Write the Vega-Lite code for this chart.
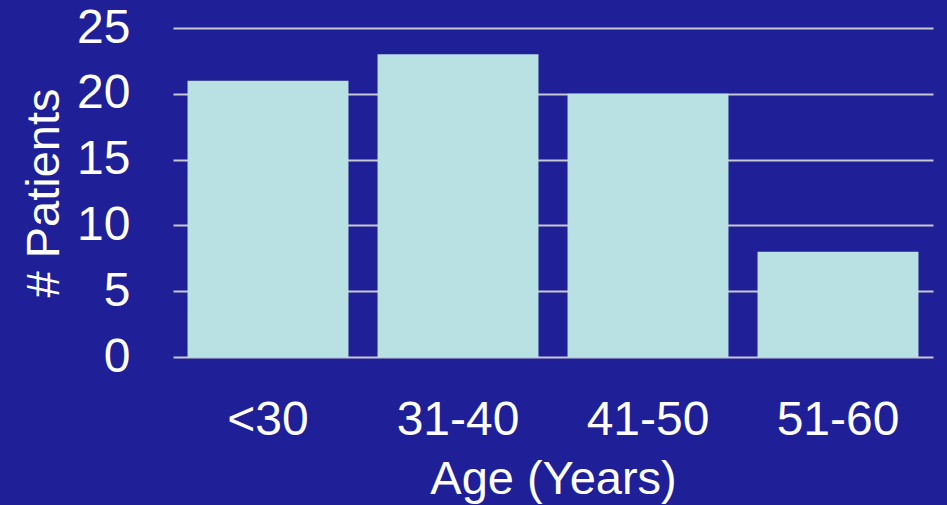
{
  "$schema": "https://vega.github.io/schema/vega-lite/v6.json",
  "width": 760,
  "height": 329,
  "autosize": "none",
  "padding": {"left": 173, "top": 28, "right": 14, "bottom": 148},
  "background": "#1f1f97",
  "config": {
    "view": {"stroke": null},
    "font": "Liberation Sans",
    "axis": {
      "labelFont": "Liberation Sans",
      "titleFont": "Liberation Sans",
      "labelColor": "#ffffff",
      "titleColor": "#ffffff",
      "labelFontSize": 48,
      "titleFontSize": 47,
      "titleFontWeight": "normal",
      "domain": false,
      "ticks": false
    }
  },
  "data": {
    "values": [
      {"age": "<30", "patients": 21},
      {"age": "31-40", "patients": 23},
      {"age": "41-50", "patients": 20},
      {"age": "51-60", "patients": 8}
    ]
  },
  "mark": {"type": "bar", "color": "#b9e0e3"},
  "encoding": {
    "x": {
      "field": "age",
      "type": "nominal",
      "sort": null,
      "scale": {"paddingInner": 0.153, "paddingOuter": 0.0765},
      "axis": {"labelAngle": 0, "labelPadding": 39, "title": "Age (Years)", "titlePadding": 12, "grid": false}
    },
    "y": {
      "field": "patients",
      "type": "quantitative",
      "scale": {"domain": [0, 25], "nice": false},
      "axis": {
        "values": [0, 5, 10, 15, 20, 25],
        "grid": true,
        "gridColor": "#c8c8d0",
        "gridWidth": 2,
        "gridOpacity": 1,
        "labelPadding": 43,
        "title": "# Patients",
        "titlePadding": 8
      }
    }
  }
}
